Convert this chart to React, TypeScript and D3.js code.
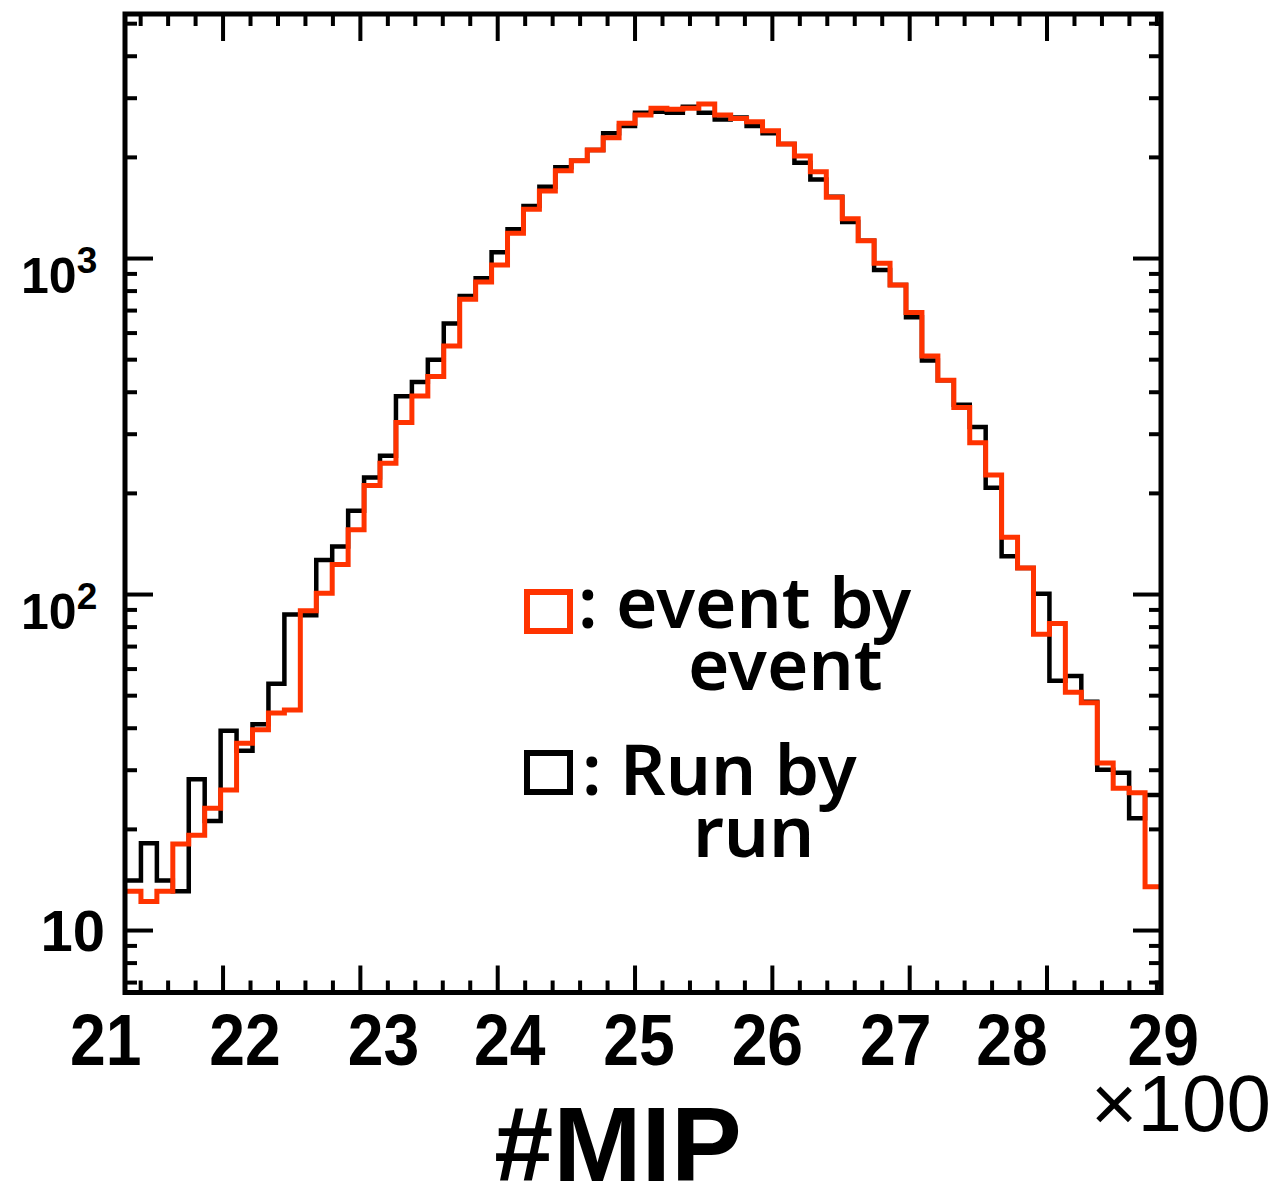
import React, { useEffect, useRef } from 'react';
import * as d3 from 'd3';

const W = 1273;
const H = 1185;

// x axis is in units of x100 MIP
const X_MIN = 21.286;
const X_MAX = 28.83;
const N_BINS = 65;
const Y_MIN = 6.54;
const Y_MAX = 5343;

const runByRun = [
  14.1, 18.2, 14.1, 13.1, 28.2, 21.2, 39.3, 34.3, 41.1, 54.3,
  87.2, 86.8, 126.8, 139, 177.6, 223, 259, 389, 429, 500,
  641, 774, 873, 1044, 1222, 1433, 1636, 1868, 1954, 2104,
  2358, 2478, 2716, 2735, 2716, 2832, 2716, 2594, 2630, 2478,
  2358, 2193, 1928, 1720, 1527, 1285, 1130, 925, 834, 669,
  497, 434, 367, 315, 208, 130, 120, 100.5, 55.4, 57.2,
  48, 30.1, 29.5, 21.6, 25.3,
];

const eventByEvent = [
  13.1, 12.2, 13.1, 18.1, 19.2, 23.1, 26.2, 36.1, 39.6, 44.4,
  45.3, 89.5, 100.8, 122.9, 155.8, 211, 246, 325, 389.6, 445.6,
  549, 756, 851, 956, 1189, 1401, 1588, 1825, 1954, 2104,
  2288, 2526, 2673, 2800, 2780, 2800, 2886, 2673, 2613, 2553,
  2400, 2193, 2019, 1813, 1522, 1313, 1130, 969, 834, 691,
  513, 434, 360, 283, 227, 148, 120, 76.2, 82, 51.2,
  47.6, 31.5, 26.5, 25.7, 13.5,
];

const xTickLabels = [21, 22, 23, 24, 25, 26, 27, 28, 29];
const yDecades = [10, 100, 1000];

// label placement in the original figure is hand-tuned, not on the ticks
const xLabelNudge = [20, 22, 23, 12, 4, -5, -14, -35, -21];

const RED = '#ff3300';
const FONT = '"Liberation Sans", Arial, sans-serif';
const LEGEND_FONT = '"Noto Sans", sans-serif';

const App = () => {
  const ref = useRef<SVGSVGElement>(null);

  useEffect(() => {
    const svg = d3.select(ref.current);
    svg.selectAll('*').remove();

    const left = 125, right = 1161, top = 14, bottom = 992.5;

    const x = d3.scaleLinear().domain([X_MIN, X_MAX]).range([left, right]);
    const y = d3.scaleLog().domain([Y_MIN, Y_MAX]).range([bottom, top]);
    const binW = (X_MAX - X_MIN) / N_BINS;

    const steps = (vals: number[]) => {
      const pts: [number, number][] = vals.map((v, i) => [X_MIN + i * binW, v]);
      pts.push([X_MAX, vals[vals.length - 1]]);
      return d3.line<[number, number]>()
        .x(d => x(d[0]))
        .y(d => y(d[1]))
        .curve(d3.curveStepAfter)(pts);
    };

    // histograms: run by run underneath, event by event on top
    svg.append('path')
      .attr('d', steps(runByRun))
      .attr('fill', 'none')
      .attr('stroke', '#000')
      .attr('stroke-width', 4.5);

    svg.append('path')
      .attr('d', steps(eventByEvent))
      .attr('fill', 'none')
      .attr('stroke', RED)
      .attr('stroke-width', 5);

    // ticks on all four sides
    const ticks = svg.append('g').attr('stroke', '#000').attr('stroke-width', 4);
    const xMinor = d3.range(21.4, 28.81, 0.2).filter(v => v > X_MIN && v < X_MAX);
    xMinor.forEach(v => {
      const major = Math.abs(v - Math.round(v)) < 1e-6;
      const len = major ? 27 : 12;
      ticks.append('line').attr('x1', x(v)).attr('x2', x(v)).attr('y1', bottom).attr('y2', bottom - len);
      ticks.append('line').attr('x1', x(v)).attr('x2', x(v)).attr('y1', top).attr('y2', top + len);
    });

    const yTicks: { v: number; major: boolean }[] = [];
    [1, 10, 100, 1000].forEach(dec => {
      for (let k = 1; k <= 9; k++) {
        const v = dec * k;
        if (v > Y_MIN && v < Y_MAX) yTicks.push({ v, major: k === 1 });
      }
    });
    yTicks.forEach(t => {
      const len = t.major ? 28 : 12;
      ticks.append('line').attr('x1', left).attr('x2', left + len).attr('y1', y(t.v)).attr('y2', y(t.v));
      ticks.append('line').attr('x1', right).attr('x2', right - len).attr('y1', y(t.v)).attr('y2', y(t.v));
    });

    // frame
    svg.append('rect')
      .attr('x', left).attr('y', top)
      .attr('width', right - left).attr('height', bottom - top)
      .attr('fill', 'none').attr('stroke', '#000').attr('stroke-width', 5);

    // x tick labels (narrow glyphs, like the original)
    svg.append('g')
      .selectAll('text')
      .data(xTickLabels)
      .enter()
      .append('text')
      .attr('transform', (d, i) => `translate(${x(d) + xLabelNudge[i]},1065) scale(0.88,1)`)
      .attr('text-anchor', 'middle')
      .style('font-family', FONT)
      .style('font-weight', 'bold')
      .style('font-size', '73px')
      .text(d => String(d));

    // y tick labels
    yDecades.forEach(d => {
      const exp = Math.round(Math.log10(d));
      if (exp === 1) {
        svg.append('text')
          .attr('x', 105).attr('y', y(d) + 20)
          .attr('text-anchor', 'end')
          .style('font-family', FONT).style('font-weight', 'bold').style('font-size', '58px')
          .text('10');
      } else {
        const t = svg.append('text')
          .attr('x', 21).attr('y', y(d) + 34)
          .style('font-family', FONT).style('font-weight', 'bold').style('font-size', '50px');
        t.append('tspan').text('10');
        t.append('tspan').attr('dy', -20).style('font-size', '37px').text(String(exp));
      }
    });

    // axis title and multiplier
    svg.append('text')
      .attr('x', 618).attr('y', 1181)
      .attr('text-anchor', 'middle')
      .style('font-family', FONT).style('font-weight', 'bold').style('font-size', '106px')
      .text('#MIP');

    svg.append('text')
      .attr('x', 1271).attr('y', 1131)
      .attr('text-anchor', 'end')
      .style('font-family', FONT).style('font-size', '80px')
      .text('×100');

    // legend
    const legend = svg.append('g').style('font-family', LEGEND_FONT).style('font-weight', 600).style('font-size', '71px');
    legend.append('rect').attr('x', 527).attr('y', 592).attr('width', 43).attr('height', 39)
      .attr('fill', 'none').attr('stroke', RED).attr('stroke-width', 6);
    legend.append('text').attr('x', 578).attr('y', 628).text(': event by');
    legend.append('text').attr('x', 688).attr('y', 690).text('event');

    legend.append('rect').attr('x', 527).attr('y', 753).attr('width', 43).attr('height', 39)
      .attr('fill', 'none').attr('stroke', '#000').attr('stroke-width', 6);
    legend.append('text').attr('x', 582).attr('y', 795).text(': Run by');
    legend.append('text').attr('x', 693).attr('y', 857).text('run');
  }, []);

  return (
    <svg
      ref={ref}
      width={W}
      height={H}
      viewBox={`0 0 ${W} ${H}`}
      style={{ position: 'absolute', left: 0, top: 0, background: '#fff' }}
    />
  );
};

export default App;
